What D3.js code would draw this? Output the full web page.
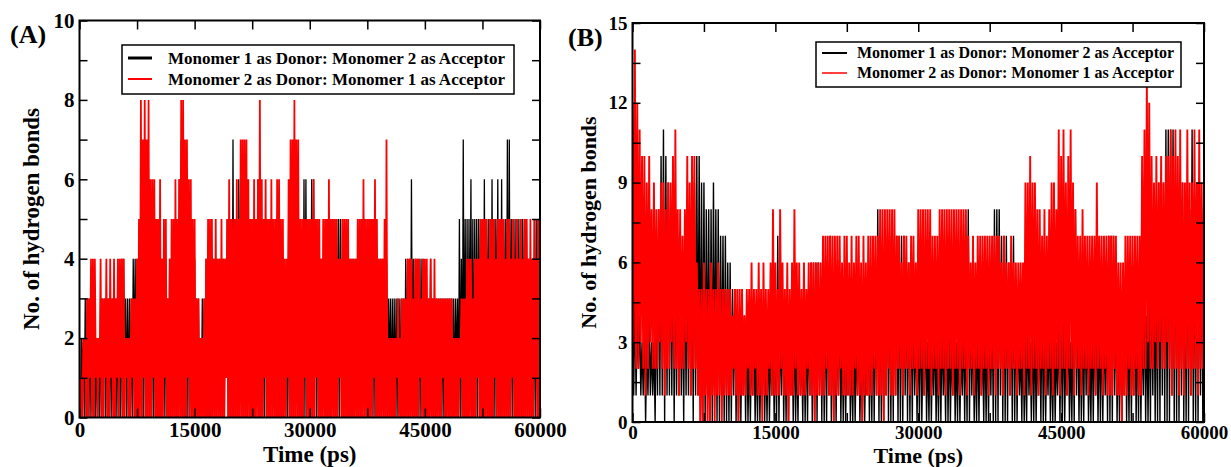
<!DOCTYPE html>
<html lang="en">
<head>
<meta charset="UTF-8">
<title>Hydrogen bonds between monomers</title>
<script src="https://d3js.org/d3.v7.min.js"></script>
<style>
  body { margin: 0; background: #fff; }
  svg { display: block; }
</style>
</head>
<body>
<svg id="chart" width="1231" height="467"></svg>
<script>
// H-bond counts, one sample every 125 ps (0 .. 60000 ps)
const timeStep = 125;
const legendNames = [
  "Monomer 1 as Donor: Monomer 2 as Acceptor",
  "Monomer 2 as Donor: Monomer 1 as Acceptor"
];
const xTicksMajor = [0, 15000, 30000, 45000, 60000];
const yTicksA = [0, 2, 4, 6, 8, 10];
const yTicksB = [0, 3, 6, 9, 12, 15];

// panel A, monomer 1 donor (black)
const hbondA1 = [
  1,0,2,1,2,0,3,0,3,0,3,0,3,1,3,0,2,0,2,0, 2,0,3,0,3,1,3,0,3,0,3,0,3,0,3,1,3,0,3,0,
  3,0,3,0,4,0,4,1,3,0,3,0,3,0,3,0,4,1,4,0, 4,0,4,1,7,0,6,0,6,0,5,0,6,1,5,0,5,0,5,0,
  4,0,5,0,5,0,4,1,4,0,4,0,3,0,4,0,4,1,5,0, 5,0,5,0,6,1,7,0,7,0,6,0,6,0,5,1,5,0,4,0,
  4,0,3,0,3,0,2,0,3,1,3,0,4,0,4,0,4,0,4,1, 4,0,4,1,4,0,4,0,4,0,4,0,4,1,5,0,5,0,5,0,
  7,0,5,0,5,0,6,1,6,0,6,0,6,0,6,0,5,1,5,0, 5,0,5,0,5,1,6,0,6,0,5,0,4,0,5,1,5,0,5,0,
  5,0,5,1,4,0,5,0,5,0,4,0,4,1,3,0,3,0,5,0, 6,0,6,0,6,0,6,1,5,0,5,0,4,0,6,0,6,1,5,0,
  5,0,6,0,6,1,5,0,5,0,4,0,4,0,4,1,4,0,5,0, 5,0,5,1,5,0,5,0,5,0,5,0,5,1,4,0,4,0,4,0,
  4,0,4,0,4,0,4,1,4,0,4,0,5,0,5,0,5,1,4,0, 4,0,5,0,5,1,5,0,5,0,4,0,4,0,4,1,4,0,4,0,
  4,0,3,1,3,0,3,0,3,0,3,0,3,1,3,0,3,0,3,0, 4,0,4,0,4,0,6,1,4,0,4,0,4,0,4,0,4,1,4,0,
  3,0,3,0,3,1,4,0,3,0,3,0,3,0,3,1,3,0,3,0, 3,0,3,1,3,0,3,0,3,0,3,0,3,1,3,0,5,0,4,0,
  7,0,5,0,5,0,5,1,6,0,5,0,5,0,5,0,5,1,5,0, 5,0,6,0,5,1,5,0,5,0,6,0,5,0,5,1,6,0,5,0,
  6,0,5,1,5,0,7,0,7,0,5,0,5,1,5,0,5,0,5,0, 5,0,5,0,5,0,5,1,4,0,4,0,4,0,4,0,5,1,5,0,
  5
];
// panel A, monomer 2 donor (red)
const hbondA2 = [
  2,0,1,0,2,1,2,0,3,0,3,1,4,0,4,0,4,1,2,0, 2,1,4,0,3,0,3,1,4,0,3,0,4,1,3,0,4,0,3,1,
  4,0,4,1,4,0,4,0,2,1,2,0,2,0,3,1,3,0,3,0, 4,0,5,0,8,0,7,1,8,0,7,0,8,0,6,0,6,1,6,0,
  5,0,5,0,6,0,4,0,5,1,5,0,3,0,4,0,5,0,5,0, 6,0,5,0,6,0,8,0,8,0,7,0,7,1,6,0,6,0,5,0,
  5,0,3,0,3,0,2,0,2,0,3,0,4,0,5,0,5,0,5,0, 4,0,5,0,4,0,4,0,5,0,4,0,4,1,5,0,6,0,5,0,
  5,0,5,0,6,0,5,0,7,0,7,0,7,0,7,0,6,0,5,0, 5,0,6,0,5,0,6,0,8,0,6,0,5,1,6,0,5,0,5,0,
  6,0,5,0,5,0,6,0,6,0,5,0,5,0,4,0,4,1,6,0, 7,0,7,0,8,0,7,0,7,0,5,0,5,0,5,1,5,0,5,0,
  5,0,5,0,6,0,5,1,5,0,5,0,4,0,5,0,5,0,5,0, 6,0,5,0,5,0,5,0,5,0,4,1,4,0,5,0,5,0,5,0,
  5,0,4,0,4,0,4,0,4,0,5,0,5,0,5,0,6,0,5,0, 5,0,5,0,5,0,5,1,6,0,5,0,4,0,4,0,4,0,5,0,
  7,0,2,0,2,0,2,0,2,0,2,1,3,0,2,0,3,0,3,0, 3,0,4,0,4,0,4,0,3,0,4,0,4,0,4,1,3,0,4,0,
  4,0,4,0,3,0,4,0,3,0,4,0,3,0,3,0,3,0,3,1, 3,0,3,0,3,0,3,0,3,0,2,0,2,0,2,0,2,1,3,0,
  3,0,3,0,4,0,4,0,4,0,3,0,4,0,4,1,4,0,5,0, 5,0,5,0,5,0,4,0,5,0,5,0,5,1,4,0,5,0,5,0,
  5,0,5,0,4,0,5,0,5,0,4,1,5,0,4,0,5,0,4,0, 5,0,4,0,5,0,5,0,4,0,5,0,4,0,5,1,4,0,5,0,
  4
];
// panel B, monomer 1 donor (black)
const hbondB1 = [
  5,1,5,1,4,2,4,1,3,1,4,0,3,1,4,1,3,1,3,0, 5,1,8,1,10,1,11,0,10,1,9,1,8,1,8,0,7,1,7,1,
  6,1,6,0,7,1,7,1,8,1,8,0,9,1,10,1,10,0,9,0, 9,0,8,1,8,0,8,0,9,1,8,0,8,0,7,1,7,0,7,0,
  6,0,6,0,5,1,5,0,4,0,4,0,4,1,4,0,4,0,3,0, 3,1,4,0,3,0,4,0,3,1,4,0,3,0,4,0,3,1,4,0,
  4,0,7,0,4,1,5,0,4,0,5,0,4,1,4,0,4,0,3,0, 4,1,3,0,4,0,4,0,4,1,6,0,6,0,6,0,6,1,5,0,
  6,0,5,0,5,1,7,0,5,0,5,0,4,1,5,0,4,0,4,0, 3,1,4,0,3,0,4,0,3,1,4,0,3,0,4,0,3,1,4,0,
  4,0,5,0,5,1,8,0,6,0,6,0,7,1,7,0,7,0,7,0, 7,1,7,0,7,0,7,0,7,1,6,0,6,0,5,0,5,1,4,0,
  4,0,5,0,3,1,4,0,3,0,4,0,3,1,4,0,3,0,4,0, 4,1,3,0,5,0,4,0,3,1,4,0,3,0,4,0,3,1,4,0,
  4,0,8,0,5,1,4,0,3,0,4,0,4,1,3,0,4,0,4,0, 4,1,5,0,8,0,8,0,8,1,7,0,7,0,7,0,6,1,5,0,
  7,0,5,0,4,1,3,0,4,0,3,0,4,1,3,0,4,0,4,0, 3,1,4,0,5,0,4,0,3,1,4,0,3,0,4,0,3,1,4,0,
  4,0,5,0,3,1,4,0,3,0,4,0,8,1,5,0,4,0,4,0, 5,1,4,0,3,0,4,0,4,1,4,0,4,0,4,0,4,1,4,0,
  7,0,7,0,7,1,5,0,4,0,5,0,4,1,5,0,4,0,5,0, 4,1,5,0,4,0,5,0,4,1,5,0,4,0,5,0,6,1,6,0,
  6,0,9,0,9,1,9,0,11,0,11,0,11,1,11,0,10,0,9,0, 8,1,9,0,7,0,9,0,8,1,11,0,8,0,9,0,8,1,8,0,
  6
];
// panel B, monomer 2 donor (red)
const hbondB2 = [
  12,3,14,2,12,2,11,3,10,2,10,1,9,2,10,3,8,2,9,2, 8,2,8,3,9,2,9,1,8,2,9,2,9,3,10,2,11,2,8,1,
  8,2,7,2,8,3,10,2,9,1,10,2,10,2,6,1,5,0,5,0, 6,1,5,0,5,0,6,1,5,0,5,1,6,1,5,0,5,1,5,1,
  5,1,5,1,4,2,5,1,5,0,5,1,5,1,4,1,5,2,5,1, 6,1,5,2,5,1,6,1,5,0,6,1,5,1,5,2,6,1,8,1,
  6,1,5,1,8,2,6,1,5,1,6,0,5,1,6,1,8,2,6,1, 6,1,5,1,6,1,5,2,6,1,6,1,6,0,6,1,6,1,6,1,
  7,1,7,2,7,1,7,1,7,0,7,1,7,1,7,2,6,1,7,1, 7,1,6,1,7,1,6,2,7,1,7,1,6,0,7,1,6,1,7,1,
  7,1,7,2,7,1,7,1,8,1,8,0,8,1,8,2,8,1,8,1, 8,1,7,2,7,2,6,1,7,2,7,2,6,1,7,2,7,2,6,1,
  8,2,8,2,8,1,8,2,8,2,8,1,7,2,7,2,7,1,8,2, 8,2,8,1,8,2,8,2,8,1,8,2,8,2,8,1,8,2,8,2,
  8,1,7,2,6,2,7,1,6,2,7,2,7,1,7,2,7,2,7,1, 7,2,7,2,7,1,7,2,7,2,6,1,7,2,6,2,6,1,7,2,
  6,2,6,1,6,2,6,2,6,1,9,2,9,2,10,1,9,2,9,2, 8,1,8,2,7,2,8,1,7,2,8,2,9,1,9,2,8,2,11,1,
  10,2,11,2,9,1,10,2,11,2,9,1,8,2,7,2,7,1,8,2, 7,2,7,1,7,2,7,2,7,1,9,2,7,2,7,1,7,2,7,1,
  7,1,7,1,7,2,7,1,6,1,6,0,6,1,7,1,7,2,7,1, 7,1,7,2,7,1,7,1,10,2,11,2,13,3,12,2,10,2,9,3,
  10,2,9,3,10,2,9,2,10,3,10,2,11,1,10,2,11,2,10,1, 11,2,9,1,9,2,11,2,9,1,9,2,11,2,9,1,11,2,9,2,
  9
];

const serif = '"Liberation Serif", "Times New Roman", serif';
const svg = d3.select("#chart");

function drawPanel(cfg) {
  const x = d3.scaleLinear().domain([0, 60000]).range([cfg.left, cfg.right]);
  const y = d3.scaleLinear().domain([0, cfg.ymax]).range([cfg.bottom, cfg.top]);

  svg.append("clipPath").attr("id", "clip" + cfg.tag)
    .append("rect")
    .attr("x", cfg.left).attr("y", cfg.top)
    .attr("width", cfg.right - cfg.left).attr("height", cfg.bottom - cfg.top);

  const line = d3.line()
    .x((d, i) => x(i * timeStep))
    .y(d => y(d));

  const plot = svg.append("g").attr("clip-path", `url(#clip${cfg.tag})`);
  cfg.series.forEach(s => {
    plot.append("path")
      .datum(s.values)
      .attr("fill", "none")
      .attr("stroke", s.color)
      .attr("stroke-width", s.width)
      .attr("stroke-linejoin", "bevel")
      .attr("d", line);
  });

  const xMinor = d3.range(0, 60001, 7500);
  const yMinor = d3.range(0, cfg.ymax + 0.001, cfg.yStep);

  const styleAxis = g => {
    g.select(".domain").remove();
    g.attr("font-family", serif).attr("font-size", cfg.tickFont).attr("font-weight", "bold");
    g.selectAll(".tick line").attr("stroke", "#000").attr("stroke-width", 1.5);
  };

  svg.append("g")
    .attr("transform", `translate(${cfg.left},0)`)
    .call(d3.axisLeft(y).tickValues(yMinor).tickSize(-8).tickPadding(5)
      .tickFormat(d => cfg.yLabels.includes(d) ? d : ""))
    .call(styleAxis);
  svg.append("g")
    .attr("transform", `translate(${cfg.right},0)`)
    .call(d3.axisRight(y).tickValues(yMinor).tickSize(-8).tickFormat(""))
    .call(styleAxis);
  svg.append("g")
    .attr("transform", `translate(0,${cfg.top})`)
    .call(d3.axisTop(x).tickValues(xMinor).tickSize(-9).tickFormat(""))
    .call(styleAxis);
  svg.append("g")
    .attr("transform", `translate(0,${cfg.bottom})`)
    .call(d3.axisBottom(x).tickValues(xMinor).tickSize(-9).tickPadding(cfg.xPad)
      .tickFormat(d => xTicksMajor.includes(d) ? d : ""))
    .call(styleAxis);

  svg.append("rect")
    .attr("x", cfg.left).attr("y", cfg.top)
    .attr("width", cfg.right - cfg.left).attr("height", cfg.bottom - cfg.top)
    .attr("fill", "none").attr("stroke", "#000").attr("stroke-width", 2);

  // axis titles
  svg.append("text")
    .attr("transform", `translate(${cfg.yTitleX},${(cfg.top + cfg.bottom) / 2}) rotate(-90)`)
    .attr("text-anchor", "middle")
    .attr("font-family", serif).attr("font-weight", "bold").attr("font-size", cfg.titleFont)
    .text("No. of hydrogen bonds");
  svg.append("text")
    .attr("x", (cfg.left + cfg.right) / 2).attr("y", cfg.xTitleY)
    .attr("text-anchor", "middle")
    .attr("font-family", serif).attr("font-weight", "bold").attr("font-size", cfg.titleFont)
    .text("Time (ps)");

  svg.append("text")
    .attr("x", cfg.labelX).attr("y", cfg.labelY)
    .attr("font-family", serif).attr("font-weight", "bold").attr("font-size", 26)
    .text(cfg.label);

  // legend
  const lg = cfg.legend;
  const leg = svg.append("g");
  leg.append("rect")
    .attr("x", lg.x).attr("y", lg.y).attr("width", lg.w).attr("height", lg.h)
    .attr("fill", "#fff").attr("stroke", "#000").attr("stroke-width", 1.5);
  cfg.series.forEach((s, i) => {
    const cy = lg.y + lg.rowTop + i * lg.rowGap;
    leg.append("line")
      .attr("x1", lg.x + 6).attr("x2", lg.x + 6 + lg.lineLen)
      .attr("y1", cy).attr("y2", cy)
      .attr("stroke", s.color).attr("stroke-width", lg.widths[i]);
    leg.append("text")
      .attr("x", lg.x + lg.textOff).attr("y", cy)
      .attr("dy", "0.33em")
      .attr("font-family", serif).attr("font-weight", "bold").attr("font-size", lg.font)
      .text(legendNames[i]);
  });
}

drawPanel({
  tag: "A", label: "(A)", labelX: 10, labelY: 43,
  left: 79.5, right: 540, top: 20.5, bottom: 417.5,
  ymax: 10, yStep: 1, yLabels: yTicksA,
  tickFont: 21, titleFont: 23, xPad: 5, yTitleX: 39, xTitleY: 462,
  series: [
    { values: hbondA1, color: "#000", width: 1.3 },
    { values: hbondA2, color: "#ff0000", width: 1.8 }
  ],
  legend: { x: 122, y: 45, w: 392, h: 49, rowTop: 13, rowGap: 21, lineLen: 24, textOff: 46, font: 17, widths: [3, 2] }
});

drawPanel({
  tag: "B", label: "(B)", labelX: 568, labelY: 46,
  left: 632.5, right: 1204, top: 23, bottom: 422,
  ymax: 15, yStep: 1.5, yLabels: yTicksB,
  tickFont: 19, titleFont: 22, xPad: 3, yTitleX: 596, xTitleY: 463,
  series: [
    { values: hbondB1, color: "#000", width: 1.4 },
    { values: hbondB2, color: "#ff0000", width: 1.9 }
  ],
  legend: { x: 816, y: 42, w: 365, h: 45, rowTop: 11, rowGap: 20, lineLen: 25, textOff: 41, font: 16, widths: [2, 1.5] }
});
</script>
</body>
</html>
